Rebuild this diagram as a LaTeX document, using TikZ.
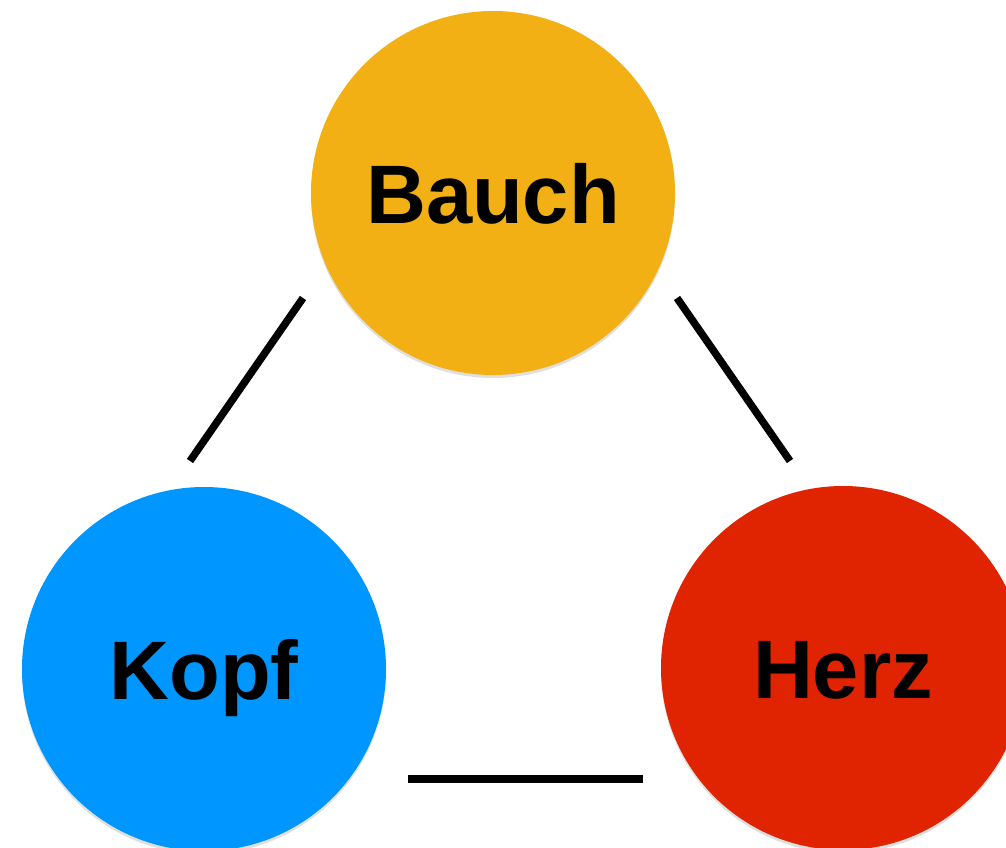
\documentclass[tikz,border=0pt]{standalone}
\usepackage{fontspec}
\setmainfont{Liberation Sans}
\usetikzlibrary{shadows}
\definecolor{bauchc}{HTML}{F2B015}
\definecolor{kopfc}{HTML}{0096FF}
\definecolor{herzc}{HTML}{E02300}
\tikzset{
  ball/.style={circle, minimum size=364pt, inner sep=0pt, draw=none,
    drop shadow={opacity=0.25, shadow xshift=0pt, shadow yshift=-3pt}},
  lbl/.style={anchor=base, inner sep=0pt, font=\fontsize{83}{90}\selectfont\bfseries},
  link/.style={line width=7.5pt, black}
}
\begin{document}
\begin{tikzpicture}[x=1pt,y=-1pt]
\useasboundingbox (0,0) rectangle (1006,848);
\node[ball, fill=bauchc] (B) at (493,193) {};
\node[ball, fill=kopfc] (K) at (204,669) {};
\node[ball, fill=herzc] (H) at (843,668) {};
\node[lbl] (Bt) at ([yshift=-30pt]B.center) {Bauch};
\node[lbl] (Kt) at ([yshift=-30pt]K.center) {Kopf};
\node[lbl] (Ht) at ([yshift=-30pt]H.center) {Herz};
\coordinate (bk1) at (303,298);
\coordinate (bk2) at (190,461);
\coordinate (bh1) at (677,298);
\coordinate (bh2) at (790,461);
\coordinate (kh1) at (408,779);
\coordinate (kh2) at (643,779);
\draw[link] (bk1) -- (bk2);
\draw[link] (bh1) -- (bh2);
\draw[link] (kh1) -- (kh2);
\end{tikzpicture}
\end{document}
